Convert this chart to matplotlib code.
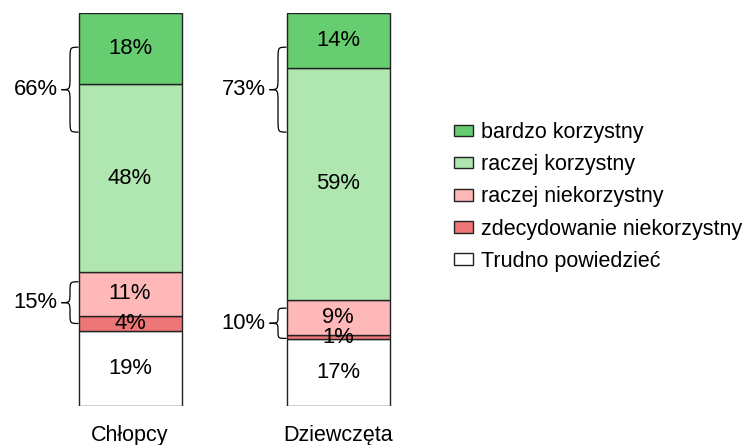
import matplotlib
matplotlib.use("Agg")
import matplotlib.pyplot as plt
from matplotlib.path import Path
from matplotlib.patches import PathPatch, Patch
import numpy as np

plt.rcParams['font.family'] = ['Liberation Sans', 'DejaVu Sans']

# Data
groups = ['Chłopcy', 'Dziewczęta']
labels = ['Trudno powiedzieć', 'zdecydowanie niekorzystny', 'raczej niekorzystny',
          'raczej korzystny', 'bardzo korzystny']
values = {
    'Trudno powiedzieć': [19, 17],
    'zdecydowanie niekorzystny': [4, 1],
    'raczej niekorzystny': [11, 9],
    'raczej korzystny': [48, 59],
    'bardzo korzystny': [18, 14],
}
positive_sum = [66, 73]
negative_sum = [15, 10]

colors = {
    'bardzo korzystny': '#66cd70',
    'raczej korzystny': '#b0e6b0',
    'raczej niekorzystny': '#ffb8b8',
    'zdecydowanie niekorzystny': '#ee7676',
    'Trudno powiedzieć': '#ffffff',
}

# brace spans (y ranges in % units), layout only
pos_brace = [(69.7, 91.3), (69.7, 91.3)]
neg_brace = [(21.0, 31.6), (17.2, 24.9)]

fs = 15.8
fig = plt.figure(figsize=(7.5, 4.45), dpi=100)
ax = fig.add_axes([0, 39 / 445, 420 / 750, 393 / 445])

x = np.arange(len(groups))
width = 103 / 208
bottom = np.zeros(len(groups))
for lab in labels:
    v = np.array(values[lab], dtype=float)
    ax.bar(x, v, width, bottom=bottom, color=colors[lab], edgecolor='#222222',
           linewidth=1.0)
    for i in range(len(groups)):
        ax.text(x[i], bottom[i] + v[i] / 2, f'{int(v[i])}%', ha='center', va='center',
                fontsize=fs)
    bottom += v


def brace(ax, xr, y0, y1, depth, r):
    # curly brace opening to the right, tip on the left
    xm = xr - depth / 2
    xt = xr - depth
    ym = (y0 + y1) / 2
    r = min(r, (y1 - y0) / 4)
    verts = [(xr, y1), (xm, y1), (xm, y1), (xm, y1 - r),
             (xm, ym + r),
             (xm, ym), (xm, ym), (xt, ym),
             (xm, ym), (xm, ym), (xm, ym - r),
             (xm, y0 + r),
             (xm, y0), (xm, y0), (xr, y0)]
    codes = [Path.MOVETO, Path.CURVE4, Path.CURVE4, Path.CURVE4,
             Path.LINETO,
             Path.CURVE4, Path.CURVE4, Path.CURVE4,
             Path.CURVE4, Path.CURVE4, Path.CURVE4,
             Path.LINETO,
             Path.CURVE4, Path.CURVE4, Path.CURVE4]
    ax.add_patch(PathPatch(Path(verts, codes), facecolor='none', edgecolor='black',
                           linewidth=0.9, clip_on=False))
    return xt, ym


depth = 17 / 208
for i in range(len(groups)):
    xr = x[i] - width / 2
    for span, total in [(pos_brace[i], positive_sum[i]), (neg_brace[i], negative_sum[i])]:
        xt, ym = brace(ax, xr, span[0], span[1], depth, 3.3)
        ax.text(xt - 4 / 208, ym, f'{total}%', ha='right', va='center', fontsize=fs)

ax.set_xlim(-130 / 208, 290 / 208)
ax.set_ylim(0, 100)
ax.set_xticks(x)
ax.set_xticklabels(groups, fontsize=15.5)
ax.tick_params(axis='x', length=0, pad=14)
ax.set_yticks([])
for s in ax.spines.values():
    s.set_visible(False)

handles = [Patch(facecolor=colors[l], edgecolor='#222222', linewidth=1.0)
           for l in labels[::-1]]
fig.legend(handles, labels[::-1], loc='center left', bbox_to_anchor=(454 / 750, 1 - 197 / 445),
           frameon=False, fontsize=15.5, handlelength=0.88, handleheight=0.45,
           handletextpad=0.37, labelspacing=0.52, borderpad=0, borderaxespad=0)

fig.savefig('out.png', dpi=100)
